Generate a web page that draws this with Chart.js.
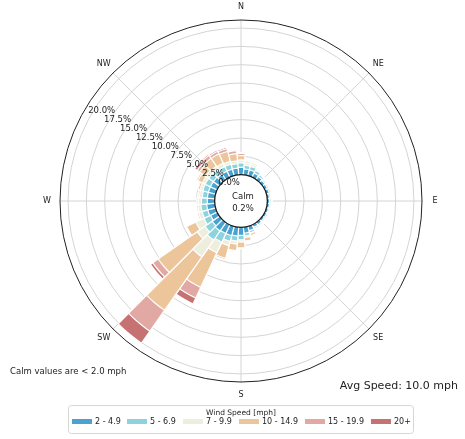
<!DOCTYPE html>
<html>
<head>
<meta charset="utf-8">
<script src="https://cdn.jsdelivr.net/npm/chart.js@4"></script>
<style>
  html, body { margin: 0; padding: 0; background: #ffffff; }
  canvas { display: block; }
</style>
</head>
<body>
<canvas id="rose" width="465" height="439"></canvas>
<script>
// Wind direction bins (degrees clockwise from north)
const directions = [0, 10, 20, 30, 40, 50, 60, 70, 80, 90, 100, 110, 120, 130, 140, 150, 160, 170,
                    180, 190, 200, 210, 220, 230, 240, 250, 260, 270, 280, 290, 300, 310, 320, 330, 340, 350];

// Speed classes and their colours
const speedBins = ['2 - 4.9', '5 - 6.9', '7 - 9.9', '10 - 14.9', '15 - 19.9', '20+'];
const binColors = ['#4aa2cf', '#8dd3dd', '#eeeedf', '#ecc59b', '#e2a9a4', '#c77272'];

// Frequency (% of hours) for each direction, one list per speed class
const speed2to5   = [1.0, 0.8, 0.8, 0.6, 0.5, 0.4, 0.4, 0.4, 0.3, 0.3, 0.3, 0.3, 0.3, 0.3, 0.4, 0.4, 0.6, 0.8,
                     1.1, 1.2, 1.3, 1.3, 1.4, 1.2, 1.0, 1.1, 1.1, 1.0, 1.0, 1.0, 1.0, 1.0, 0.9, 0.9, 0.9, 0.9];
const speed5to7   = [0.6, 0.5, 0.5, 0.4, 0.3, 0.2, 0.2, 0.2, 0.2, 0.2, 0.15, 0.15, 0.2, 0.2, 0.2, 0.2, 0.3, 0.4,
                     0.6, 0.7, 0.8, 1.3, 1.5, 1.2, 1.0, 0.8, 0.8, 0.8, 0.7, 0.8, 0.8, 0.8, 0.8, 0.7, 0.7, 0.6];
const speed7to10  = [0.4, 0.3, 0.3, 0.2, 0.1, 0.1, 0.1, 0.2, 0.1, 0.1, 0.05, 0.05, 0.1, 0.1, 0.1, 0.1, 0.1, 0.2,
                     0.3, 0.4, 0.6, 1.6, 2.8, 1.3, 1.2, 0.5, 0.4, 0.4, 0.4, 0.4, 0.4, 0.5, 0.5, 0.5, 0.4, 0.4];
const speed10to15 = [0.6, 0.2, 0.2, 0.1, 0.0, 0.0, 0.0, 0.1, 0.0, 0.0, 0.0, 0.0, 0.0, 0.0, 0.0, 0.1, 0.3, 0.5,
                     0.8, 0.9, 1.8, 5.2, 8.9, 6.5, 1.4, 0.2, 0.2, 0.2, 0.2, 0.3, 0.7, 1.0, 1.3, 1.4, 1.4, 1.0];
const speed15to20 = [0.3, 0.1, 0.0, 0.0, 0.0, 0.0, 0.0, 0.0, 0.0, 0.0, 0.0, 0.0, 0.0, 0.0, 0.0, 0.0, 0.0, 0.0,
                     0.1, 0.1, 0.2, 1.6, 3.5, 0.9, 0.0, 0.0, 0.0, 0.0, 0.0, 0.1, 0.2, 0.4, 0.5, 0.4, 0.4, 0.4];
const speed20plus = [0.1, 0.1, 0.0, 0.0, 0.0, 0.0, 0.0, 0.0, 0.0, 0.0, 0.0, 0.0, 0.0, 0.0, 0.0, 0.0, 0.0, 0.0,
                     0.0, 0.0, 0.1, 0.9, 2.0, 0.4, 0.0, 0.0, 0.0, 0.0, 0.0, 0.0, 0.1, 0.4, 0.2, 0.2, 0.2, 0.1];

// Radial rings and their labels
const ringValues = [0, 2.5, 5, 7.5, 10, 12.5, 15, 17.5, 20];
const ringLabels = ['0.0%', '2.5%', '5.0%', '7.5%', '10.0%', '12.5%', '15.0%', '17.5%', '20.0%'];
const radialMax = 21.1;     // outer edge of the plot
const coreValue = -3.6;     // value at the exact centre; leaves room for the calm circle

// Compass labels
const compassLabels = ['N', 'NE', 'E', 'SE', 'S', 'SW', 'W', 'NW'];
const compassAngles = [0, 45, 90, 135, 180, 225, 270, 315];

const calmPercent = 0.2;
const calmThreshold = 2.0;
const avgSpeed = 10.0;

const FONT = '"DejaVu Sans", "Liberation Sans", sans-serif';

// Stack the speed classes: each ring of the rose is drawn out to the running total
const perBin = [speed2to5, speed5to7, speed7to10, speed10to15, speed15to20, speed20plus];
const cumulative = [];
perBin.forEach((arr, k) => {
  cumulative.push(arr.map((v, i) => +((k ? cumulative[k - 1][i] : 0) + v).toFixed(3)));
});

const datasets = cumulative.map((vals, k) => ({
  label: speedBins[k],
  data: vals,
  backgroundColor: binColors[k],
  borderColor: '#ffffff',
  borderWidth: 1.2,
  hoverBorderColor: '#ffffff'
}));

function polar(scale, value, deg) {
  const r = scale.getDistanceFromCenterForValue(value);
  const a = deg * Math.PI / 180;
  return { x: scale.xCenter + r * Math.sin(a), y: scale.yCenter - r * Math.cos(a), r };
}

const roseDecor = {
  id: 'roseDecor',
  beforeDatasetsDraw(chart) {
    const s = chart.scales.r;
    const ctx = chart.ctx;
    ctx.save();
    ctx.strokeStyle = '#d4d4d4';
    ctx.lineWidth = 1;
    compassAngles.forEach(deg => {
      const p0 = polar(s, 0, deg);
      const p1 = polar(s, radialMax, deg);
      ctx.beginPath();
      ctx.moveTo(p0.x, p0.y);
      ctx.lineTo(p1.x, p1.y);
      ctx.stroke();
    });
    ctx.restore();
  },
  afterDatasetsDraw(chart) {
    const s = chart.scales.r;
    const ctx = chart.ctx;
    const cx = s.xCenter, cy = s.yCenter;
    ctx.save();

    // outer boundary
    ctx.strokeStyle = '#222222';
    ctx.lineWidth = 1;
    ctx.beginPath();
    ctx.arc(cx, cy, s.getDistanceFromCenterForValue(radialMax), 0, Math.PI * 2);
    ctx.stroke();

    // calm circle
    const rc = s.getDistanceFromCenterForValue(0);
    ctx.fillStyle = '#ffffff';
    ctx.strokeStyle = '#1a1a1a';
    ctx.lineWidth = 1.3;
    ctx.beginPath();
    ctx.arc(cx, cy, rc, 0, Math.PI * 2);
    ctx.fill();
    ctx.stroke();
    ctx.fillStyle = '#222222';
    ctx.textAlign = 'center';
    ctx.textBaseline = 'middle';
    ctx.font = '8.5px ' + FONT;
    ctx.fillText('Calm', cx + 2, cy - 4);
    ctx.fillText(calmPercent.toFixed(1) + '%', cx + 2, cy + 8);

    // ring labels along the west-north-west direction
    const dirA = Math.atan2(0.494, 0.869);
    ringValues.forEach((v, i) => {
      const r = s.getDistanceFromCenterForValue(v);
      const x = cx - r * Math.cos(dirA) + 11;
      const y = cy - r * Math.sin(dirA) - 5;
      ctx.fillText(ringLabels[i], x, y);
    });

    // compass labels
    ctx.font = '8px ' + FONT;
    compassLabels.forEach((lab, i) => {
      const p = polar(s, radialMax, compassAngles[i]);
      const a = compassAngles[i] * Math.PI / 180;
      const R = p.r + 13;
      ctx.fillText(lab, cx + R * Math.sin(a), cy - R * Math.cos(a));
    });

    // notes
    ctx.textAlign = 'left';
    ctx.font = '8.5px ' + FONT;
    ctx.fillText('Calm values are < ' + calmThreshold.toFixed(1) + ' mph', 10, 372);
    ctx.textAlign = 'right';
    ctx.font = '11px ' + FONT;
    ctx.fillText('Avg Speed: ' + avgSpeed.toFixed(1) + ' mph', 458, 386);

    // legend
    const lx = 68, ly = 405, lw = 345, lh = 28;
    ctx.fillStyle = '#ffffff';
    ctx.strokeStyle = '#d6d6d6';
    ctx.lineWidth = 1;
    ctx.beginPath();
    ctx.roundRect(lx + 0.5, ly + 0.5, lw, lh, 3);
    ctx.fill();
    ctx.stroke();
    ctx.fillStyle = '#222222';
    ctx.textAlign = 'center';
    ctx.font = '7.5px ' + FONT;
    ctx.fillText('Wind Speed [mph]', 241, 413);
    const swatchX = [72, 127, 183, 239, 305, 371];
    ctx.textAlign = 'left';
    ctx.font = '8px ' + FONT;
    speedBins.forEach((lab, k) => {
      ctx.fillStyle = binColors[k];
      ctx.fillRect(swatchX[k], 419, 20, 5);
      ctx.fillStyle = '#222222';
      ctx.fillText(lab, swatchX[k] + 23, 422);
    });
    ctx.restore();
  }
};

new Chart(document.getElementById('rose'), {
  type: 'polarArea',
  data: { labels: directions.map(d => d + '°'), datasets },
  options: {
    responsive: false,
    animation: false,
    layout: { padding: { left: 60, right: 43, top: 20, bottom: 57 } },
    plugins: { legend: { display: false }, tooltip: { enabled: true } },
    scales: {
      r: {
        min: coreValue,
        max: radialMax,
        startAngle: -5,
        ticks: { display: false, stepSize: 2.5 },
        afterBuildTicks: (scale) => {
          scale.ticks = ringValues.map(v => ({ value: v }));
        },
        grid: {
          circular: true,
          color: (c) => (c.tick && c.tick.value >= 0 ? '#d4d4d4' : 'rgba(0,0,0,0)'),
          lineWidth: 1
        },
        angleLines: { display: false },
        pointLabels: { display: false }
      }
    }
  },
  plugins: [roseDecor]
});
</script>
</body>
</html>
